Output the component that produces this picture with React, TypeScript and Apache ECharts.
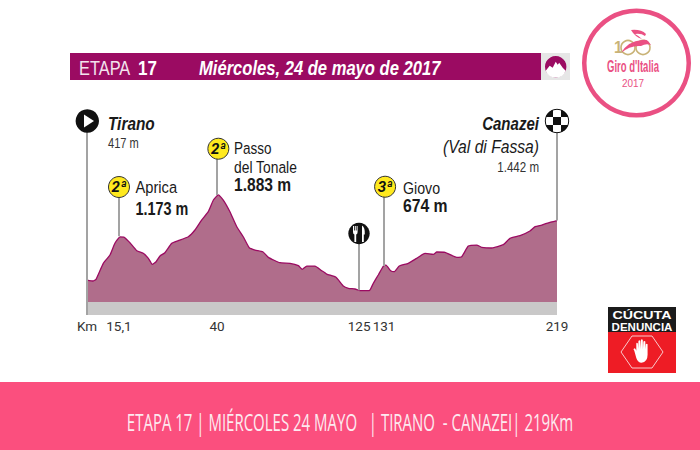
import React, { useEffect, useRef } from "react";
import * as echarts from "echarts";

const distanceKm = [0,2.9,4.2,7.6,10.7,13,15.4,17.2,20,23.2,26.2,28.6,30.4,32.2,34,36.3,39.5,42.5,47.2,50.3,53.4,56.5,58.9,61.2,63.5,66.6,69.8,72.8,75.6,78.3,81.9,84.5,89.9,94.6,98.5,100.3,102.4,106.2,109.4,111.7,116,119.4,121.8,124.9,127.2,131.5,133.4,135.7,138.1,139.3,141.5,143.1,145.5,149.7,153.6,157.5,161.4,163,166.8,172.3,174.6,177.7,181.6,183.9,188.6,194,197.1,201.8,206.4,208.8,211.9,215.7,219];
const elevationM = [417,400,429,705,848,1050,1160,1158,1060,922,877,791,688,732,831,888,1050,1095,1163,1279,1451,1595,1796,1883,1796,1595,1336,1163,974,934,905,808,715,705,664,601,658,658,577,520,464,314,274,262,233,233,360,503,658,674,577,560,658,705,791,877,860,900,895,808,819,1003,1020,981,969,1026,1136,1181,1262,1336,1365,1412,1442];

const tickPositions = [0, 14.9, 60.6, 126.8, 138.4, 219];
const tickLabels = ["Km", "15,1", "40", "125", "131", "219"];

const poleKm = [0, 14.9, 60.6, 126.8, 138.4, 219];
const poleFromM = [-186, 1170, 1883, 240, 660, 1442];
const poleToM = [3160, 2020, 2680, 1222, 2025, 3160];

const climbKm = [14.9, 61.2, 138.9];
const climbM = [2020, 2680, 2025];
const climbCat = ["2ª", "2ª", "3ª"];

const SANS = '"Liberation Sans", Arial, sans-serif';
const PURPLE = "#9b0b62";
const PINK = "#ea5083";

const checker = "M-4,-4 L-11.3,-4 A12,12 0 0 1 -4,-11.3 Z M4,-4 L4,-11.3 A12,12 0 0 1 11.3,-4 Z M-4,-4 L4,-4 L4,4 L-4,4 Z M-4,4 L-4,11.3 A12,12 0 0 1 -11.3,4 Z M4,4 L11.3,4 A12,12 0 0 1 4,11.3 Z";
const cutlery = "M-6,-7.5 L-5,-7.5 L-5,-3 L-4.2,-3 L-4.2,-7.5 L-3.2,-7.5 L-3.2,-3 L-2.4,-3 L-2.4,-7.5 L-1.4,-7.5 L-1.4,-1.5 Q-1.4,0.5 -2.8,1 L-2.8,8.5 L-4.6,8.5 L-4.6,1 Q-6,0.5 -6,-1.5 Z M3,-8 Q6.2,-6 5.8,1 L4.8,1 L4.8,8.5 L3,8.5 Z";
const mountain = "M-10,4 L-6,-1 L-3,1 L0,-5 L2,-2 L3.5,-4 L7,1 L10,4 A10.7,10.7 0 0 1 -10,4 Z";
const hand = "M-9,-1 Q-11,-3 -9,-4 Q-7.5,-4 -6.5,-1 L-6.5,-10 Q-6,-12 -4.5,-10 L-4.2,-3 L-3.8,-13 Q-2.6,-15 -1.6,-13 L-1.2,-3 L-0.8,-14.5 Q0.4,-16 1.6,-14.5 L1.8,-3 L2.4,-12.5 Q3.6,-14 4.8,-12.5 L4.8,-3 L5.4,-9 Q6.6,-10.5 7.6,-9 L7.6,4 Q7.6,13 0,14 Q-4.5,14 -6.5,8 Z";
const swooshA = "M-13,9 Q-6,-3 8,-4 Q12,-5 14,-3 L17,1 Q12,-1 7,2 Q-4,1 -13,9 Z";
const swooshB = "M-3,-14 Q7,-15 12,-10 L11,-8 Q7,-11 1,-10 Q5,-8 8,-5 Q1,-7 -3,-14 Z";

echarts.graphic.registerShape("checker", echarts.graphic.extendPath(checker, {}));
echarts.graphic.registerShape("cutlery", echarts.graphic.extendPath(cutlery, {}));
echarts.graphic.registerShape("mountain", echarts.graphic.extendPath(mountain, {}));
echarts.graphic.registerShape("hand", echarts.graphic.extendPath(hand, {}));
echarts.graphic.registerShape("swooshA", echarts.graphic.extendPath(swooshA, {}));
echarts.graphic.registerShape("swooshB", echarts.graphic.extendPath(swooshB, {}));

const txt = (x: number, y: number, text: string, size: number, sx: number, o: any = {}) => ({
  type: "text",
  x,
  y,
  z: 20,
  scaleX: sx,
  style: {
    text,
    fontFamily: o.family || SANS,
    fontSize: size,
    fontWeight: o.bold ? "bold" : "normal",
    fontStyle: o.italic ? "italic" : "normal",
    fill: o.fill || "#1a1a1a",
    textAlign: o.align || "left",
    textVerticalAlign: "middle",
    textBaseline: "middle",
  },
});

export default function App() {
  const ref = useRef<HTMLDivElement>(null);
  useEffect(() => {
    const chart = echarts.init(ref.current!, undefined, { renderer: "svg" });
    const graphic: any[] = [
      { type: "rect", z: 1, shape: { x: 0, y: 382, width: 700, height: 68 }, style: { fill: "#fb4f7e" } },
      { type: "rect", z: 1, shape: { x: 70, y: 53, width: 471, height: 27 }, style: { fill: PURPLE } },
      { type: "rect", z: 1, shape: { x: 541, y: 53, width: 29, height: 27 }, style: { fill: "#e6e6e6" } },
      { type: "circle", z: 2, shape: { cx: 555.7, cy: 66.7, r: 10.7 }, style: { fill: PURPLE } },
      { type: "mountain", z: 3, x: 555.7, y: 66.7, style: { fill: "#ffffff" } },
      txt(79, 67.5, "ETAPA", 20, 0.82, { fill: "#f3e3ee" }),
      txt(138, 67.5, "17", 20, 0.85, { bold: true, fill: "#ffffff" }),
      txt(199, 67.5, "Miércoles, 24 de mayo de 2017", 21, 0.79, { bold: true, italic: true, fill: "#ffffff" }),

      { type: "circle", z: 10, shape: { cx: 87.3, cy: 121, r: 11.7 }, style: { fill: "#111111" } },
      { type: "polygon", z: 11, shape: { points: [[84, 114.5], [84, 127.5], [94, 121]] }, style: { fill: "#ffffff" } },
      txt(108, 123.5, "Tirano", 17.5, 0.88, { bold: true, italic: true }),
      txt(108, 143, "417 m", 15, 0.74, { fill: "#333333" }),

      { type: "circle", z: 10, shape: { cx: 557, cy: 121, r: 11.7 }, style: { fill: "#ffffff", stroke: "#111111", lineWidth: 1 } },
      { type: "checker", z: 11, x: 557, y: 121, style: { fill: "#111111" } },
      txt(539, 123.5, "Canazei", 17.5, 0.86, { bold: true, italic: true, align: "right" }),
      txt(539, 147, "(Val di Fassa)", 18, 0.87, { italic: true, align: "right" }),
      txt(539, 167, "1.442 m", 15, 0.77, { align: "right", fill: "#333333" }),

      txt(135.5, 187, "Aprica", 16.5, 0.89),
      txt(135.5, 208, "1.173 m", 18, 0.8, { bold: true }),
      txt(234, 148, "Passo", 16.5, 0.82),
      txt(234, 167, "del Tonale", 16.5, 0.84),
      txt(234, 185, "1.883 m", 17.5, 0.89, { bold: true }),
      txt(403, 188, "Giovo", 16.5, 0.86),
      txt(403, 206, "674 m", 17.5, 0.9, { bold: true }),

      { type: "circle", z: 10, shape: { cx: 359, cy: 233.5, r: 10.7 }, style: { fill: "#111111" } },
      { type: "cutlery", z: 11, x: 359, y: 233.5, style: { fill: "#ffffff" } },

      { type: "ring", z: 2, shape: { cx: 636.5, cy: 63, r: 54.5, r0: 50 }, style: { fill: PINK } },
      { type: "circle", z: 3, shape: { cx: 628, cy: 47.5, r: 7 }, style: { fill: "none", stroke: "#c9b377", lineWidth: 1.6 } },
      { type: "circle", z: 3, shape: { cx: 643, cy: 47.5, r: 7 }, style: { fill: "none", stroke: "#c9b377", lineWidth: 1.6 } },
      txt(614, 47, "1", 17, 0.9, { fill: "#c9b377", bold: true }),
      { type: "swooshA", z: 4, x: 634, y: 44, style: { fill: PINK } },
      { type: "swooshB", z: 4, x: 634, y: 44, style: { fill: PINK } },
      txt(633, 66, "Giro d'Italia", 17, 0.56, { bold: true, align: "center", fill: PINK }),
      txt(633, 83, "2017", 11, 0.9, { align: "center", fill: PINK }),

      { type: "rect", z: 2, shape: { x: 608, y: 307, width: 68, height: 25 }, style: { fill: "#1b1b1b" } },
      { type: "rect", z: 2, shape: { x: 608, y: 332, width: 68, height: 41 }, style: { fill: "#ee1c25" } },
      txt(642, 315.5, "CÚCUTA", 11.5, 1.24, { bold: true, align: "center", fill: "#ffffff" }),
      txt(642, 327, "DENUNCIA", 11, 1.05, { bold: true, align: "center", fill: "#ffffff" }),
      { type: "polygon", z: 3, shape: { points: [[632, 336], [652, 336], [663, 352], [652, 368], [632, 368], [621, 352]] }, style: { fill: "none", stroke: "#f9c9cb", lineWidth: 1 } },
      { type: "hand", z: 4, x: 641.5, y: 351.5, scaleX: 0.8, scaleY: 0.8, style: { fill: "#ffffff" } },

      txt(350, 422, "ETAPA 17 | MIÉRCOLES 24 MAYO   | TIRANO  - CANAZEI| 219Km", 23, 0.652, { family: '"Open Sans", sans-serif', align: "center", fill: "#fdeaf0" }),
    ];

    chart.setOption({
      animation: false,
      backgroundColor: "#ffffff",
      grid: { left: 87, right: 143, top: 100, bottom: 135 },
      xAxis: {
        type: "value",
        min: 0,
        max: 219,
        axisLine: { show: false },
        axisTick: { show: false },
        splitLine: { show: false },
        axisLabel: {
          customValues: tickPositions,
          formatter: (v: number) => tickLabels[tickPositions.indexOf(v)] ?? "",
          fontFamily: "Roboto",
          fontSize: 13.5,
          color: "#333333",
          margin: 4,
          hideOverlap: false,
          showMinLabel: true,
          showMaxLabel: true,
        },
      },
      yAxis: { type: "value", min: -186, max: 3520, show: false },
      series: [
        {
          type: "line",
          silent: true,
          symbol: "none",
          smooth: 0.15,
          z: 3,
          data: distanceKm.map((d, i) => [d, elevationM[i]]),
          lineStyle: { color: PURPLE, width: 1.3 },
          areaStyle: { color: "#b06d8b", opacity: 1, origin: 38 },
          markArea: {
            silent: true,
            itemStyle: { color: "#c9c8c8" },
            data: [[{ coord: [0, -186] }, { coord: [219, 38] }]],
          },
          markLine: {
            silent: true,
            symbol: "none",
            label: { show: false },
            lineStyle: { color: "#a3a3a3", width: 2, type: "solid" },
            data: poleKm.map((k, i) => [{ coord: [k, poleFromM[i]] }, { coord: [k, poleToM[i]] }]),
          },
          markPoint: {
            silent: true,
            symbol: "circle",
            symbolSize: 21,
            itemStyle: { color: "#ffe91e", borderColor: "#333333", borderWidth: 1 },
            label: { show: true, formatter: (p: any) => p.name, color: "#111111", fontFamily: "Roboto", fontWeight: "bold", fontStyle: "italic", fontSize: 15 },
            data: climbKm.map((k, i) => ({ name: climbCat[i], coord: [k, climbM[i]] })),
          },
        },
      ],
      graphic,
    });
    return () => chart.dispose();
  }, []);
  return <div ref={ref} style={{ position: "fixed", left: 0, top: 0, width: 700, height: 450 }} />;
}
